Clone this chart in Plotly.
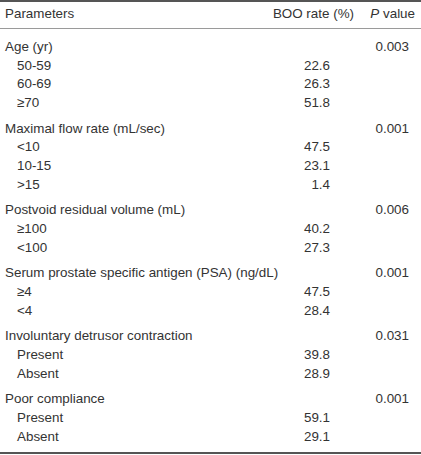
import plotly.graph_objects as go

# ---- data ----
groups = [
    "Age (yr)",
    "Maximal flow rate (mL/sec)",
    "Postvoid residual volume (mL)",
    "Serum prostate specific antigen (PSA) (ng/dL)",
    "Involuntary detrusor contraction",
    "Poor compliance",
]
p_values = ["0.003", "0.001", "0.006", "0.001", "0.031", "0.001"]
subgroups = [
    ["50-59", "60-69", "≥70"],
    ["<10", "10-15", ">15"],
    ["≥100", "<100"],
    ["≥4", "<4"],
    ["Present", "Absent"],
    ["Present", "Absent"],
]
boo_rates = [
    [22.6, 26.3, 51.8],
    [47.5, 23.1, 1.4],
    [40.2, 27.3],
    [47.5, 28.4],
    [39.8, 28.9],
    [59.1, 29.1],
]
headers = ["Parameters", "BOO rate (%)", "<i>P</i> value"]

# ---- layout constants ----
W, H = 421, 455
FIRST_Y = 47.5
ROW = 18.8
GROUP_GAP = 6.6
X_GROUP = 5
X_SUB = 17
X_RATE = 330
X_P = 409
FONT = dict(family="Liberation Sans, Arial, sans-serif", size=13.4, color="#333")

g_x, g_y, g_t = [], [], []
s_x, s_y, s_t = [], [], []
r_x, r_y, r_t = [], [], []
p_x, p_y, p_t = [], [], []

row = 0
for gi, (g, pv, subs, rates) in enumerate(zip(groups, p_values, subgroups, boo_rates)):
    y = FIRST_Y + row * ROW + gi * GROUP_GAP
    g_x.append(X_GROUP); g_y.append(y); g_t.append(g)
    p_x.append(X_P); p_y.append(y); p_t.append(pv)
    row += 1
    for s, r in zip(subs, rates):
        y = FIRST_Y + row * ROW + gi * GROUP_GAP
        s_x.append(X_SUB); s_y.append(y); s_t.append(s)
        r_x.append(X_RATE); r_y.append(y); r_t.append(f"{r:.1f}")
        row += 1

fig = go.Figure()

def add_text(x, y, t, pos):
    fig.add_trace(go.Scatter(x=x, y=y, text=t, mode="text", textposition=pos,
                             textfont=FONT, hoverinfo="skip", showlegend=False,
                             cliponaxis=False))

add_text(g_x, g_y, g_t, "middle right")
add_text(s_x, s_y, s_t, "middle right")
add_text(r_x, r_y, r_t, "middle left")
add_text(p_x, p_y, p_t, "middle left")

HEADER_Y = 14.5
add_text([5], [HEADER_Y], [headers[0]], "middle right")
add_text([354], [HEADER_Y], [headers[1]], "middle left")
add_text([415], [HEADER_Y], [headers[2]], "middle left")

# rules
fig.add_shape(type="line", x0=0, x1=W, y0=1, y1=1, line=dict(color="#555", width=2))
fig.add_shape(type="line", x0=0, x1=W, y0=28.5, y1=28.5, line=dict(color="#9a9a9a", width=1))
fig.add_shape(type="line", x0=0, x1=W, y0=453, y1=453, line=dict(color="#555", width=2))

fig.update_layout(
    width=W, height=H, autosize=False,
    margin=dict(l=0, r=0, t=0, b=0),
    paper_bgcolor="white", plot_bgcolor="white",
    xaxis=dict(range=[0, W], visible=False, fixedrange=True),
    yaxis=dict(range=[H, 0], visible=False, fixedrange=True),
)

fig.write_html("out.html", config={"displayModeBar": False},
               post_script="document.body.style.margin='0';document.body.style.overflow='hidden';")
